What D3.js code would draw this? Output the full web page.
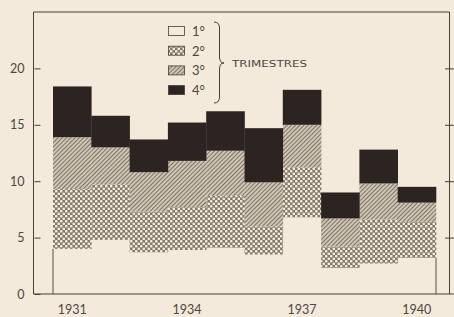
<!DOCTYPE html>
<html>
<head>
<meta charset="utf-8">
<script src="https://cdn.jsdelivr.net/npm/d3@7"></script>
<style>
  html, body { margin: 0; padding: 0; background: #f3eadb; }
  svg { display: block; }
</style>
</head>
<body>
<svg id="chart" width="454" height="317"></svg>
<script>
// ---- data ----
const years = [1931, 1932, 1933, 1934, 1935, 1936, 1937, 1938, 1939, 1940];
const q1 = [4.0, 4.8, 3.7, 3.9, 4.1, 3.5, 6.8, 2.3, 2.7, 3.2];
const q2 = [5.3, 4.9, 3.6, 3.8, 4.6, 2.5, 4.4, 1.9, 3.9, 3.2];
const q3 = [4.6, 3.3, 3.5, 4.1, 4.0, 3.9, 3.8, 2.5, 3.2, 1.7];
const q4 = [4.5, 2.8, 2.9, 3.4, 3.5, 4.8, 3.1, 2.3, 3.0, 1.4];
const seriesKeys = ["q1", "q2", "q3", "q4"];
const seriesLabels = ["1°", "2°", "3°", "4°"];
const yTicks = [0, 5, 10, 15, 20];
const xTickLabels = [1931, 1934, 1937, 1940];
const braceLabel = "TRIMESTRES";

const rows = years.map((y, i) => ({ year: y, q1: q1[i], q2: q2[i], q3: q3[i], q4: q4[i] }));

const svg = d3.select("#chart");
const ink = "#463e37";
const textInk = "#4f463f";
const font = "Lato, 'DejaVu Sans', sans-serif";

// patterns
const defs = svg.append("defs");
const cross = defs.append("pattern").attr("id", "cross")
  .attr("patternUnits", "userSpaceOnUse").attr("width", 5).attr("height", 5);
cross.append("rect").attr("width", 5).attr("height", 5).attr("fill", "#85796b");
cross.append("circle").attr("cx", 1.25).attr("cy", 1.25).attr("r", 1.35).attr("fill", "#f3eadb");
cross.append("circle").attr("cx", 3.75).attr("cy", 3.75).attr("r", 1.35).attr("fill", "#f3eadb");

const hatch = defs.append("pattern").attr("id", "hatch")
  .attr("patternUnits", "userSpaceOnUse").attr("width", 3).attr("height", 3)
  .attr("patternTransform", "rotate(45)");
hatch.append("rect").attr("width", 3).attr("height", 3).attr("fill", "#d2c8b7");
hatch.append("line").attr("x1", 0.5).attr("y1", 0).attr("x2", 0.5).attr("y2", 3)
  .attr("stroke", "#7d7265").attr("stroke-width", 1.1);

const fills = { q1: "#f3eadb", q2: "url(#cross)", q3: "url(#hatch)", q4: "#2b2421" };

// scales
const x = d3.scaleBand().domain(years).range([53, 436]).padding(0);
const y = d3.scaleLinear().domain([0, 25]).range([294, 12]);

// stacked bars
const stacked = d3.stack().keys(seriesKeys)(rows);
svg.append("g").selectAll("g").data(stacked).join("g")
  .attr("fill", d => fills[d.key])
  .selectAll("rect").data(d => d).join("rect")
  .attr("x", d => x(d.data.year))
  .attr("width", x.bandwidth() + 0.3)
  .attr("y", d => y(d[1]))
  .attr("height", d => y(d[0]) - y(d[1]));

// outer edges of the first and last bars
const first = stacked[0][0], last = stacked[0][years.length - 1];
svg.append("line").attr("x1", x(years[0])).attr("x2", x(years[0]))
  .attr("y1", y(0)).attr("y2", y(first[1])).attr("stroke", ink).attr("stroke-width", 0.9);
svg.append("line").attr("x1", x(years[years.length - 1]) + x.bandwidth())
  .attr("x2", x(years[years.length - 1]) + x.bandwidth())
  .attr("y1", y(0)).attr("y2", y(last[1])).attr("stroke", ink).attr("stroke-width", 0.9);

// frame
const frame = svg.append("g").attr("stroke", ink).attr("stroke-width", 1).attr("fill", "none");
frame.append("path").attr("d", `M33.5,${y(25)}V${y(0)}H454`);
frame.append("path").attr("d", `M33.5,${y(25)}H449.5V${y(0)}`);

// left axis
const yAxis = svg.append("g").attr("transform", "translate(33.5,0)")
  .call(d3.axisLeft(y).tickValues(yTicks).tickSize(-6).tickSizeOuter(0).tickPadding(9));
yAxis.select(".domain").remove();
yAxis.selectAll("line").attr("stroke", ink).attr("transform", "translate(1,0)");
yAxis.selectAll("text").attr("fill", textInk).attr("font-family", font).attr("font-size", 12.5);

// right axis ticks
const yAxisR = svg.append("g").attr("transform", "translate(454,0)")
  .call(d3.axisLeft(y).tickValues(yTicks.filter(v => v > 0)).tickSize(9).tickSizeOuter(0).tickFormat(""));
yAxisR.select(".domain").remove();
yAxisR.selectAll("line").attr("stroke", ink);

// bottom axis labels
const xAxis = svg.append("g").attr("transform", `translate(0,${y(0)})`)
  .call(d3.axisBottom(x).tickValues(xTickLabels).tickSize(0).tickPadding(11));
xAxis.select(".domain").remove();
xAxis.selectAll("text").attr("fill", textInk).attr("font-family", font).attr("font-size", 12.5);

// legend
const lg = svg.append("g");
seriesKeys.forEach((k, i) => {
  const ly = 26 + i * 19.7;
  lg.append("rect").attr("x", 168.5).attr("y", ly + 0.5).attr("width", 16).attr("height", 9)
    .attr("fill", fills[k]).attr("stroke", ink).attr("stroke-width", 0.8);
  lg.append("text").attr("x", 192).attr("y", ly + 10).text(seriesLabels[i])
    .attr("fill", textInk).attr("font-family", font).attr("font-size", 13);
});
lg.append("path")
  .attr("d", "M214,22 Q219.5,22 219.5,28 L219.5,57 Q219.5,63 224,63 Q219.5,63 219.5,69 L219.5,97 Q219.5,103 214,103")
  .attr("fill", "none").attr("stroke", ink).attr("stroke-width", 1);
lg.append("text").attr("x", 232).attr("y", 67).text(braceLabel)
  .attr("fill", textInk).attr("font-family", "'DejaVu Sans', sans-serif").attr("font-size", 9.5)
  .attr("textLength", 75).attr("lengthAdjust", "spacingAndGlyphs");
</script>
</body>
</html>
